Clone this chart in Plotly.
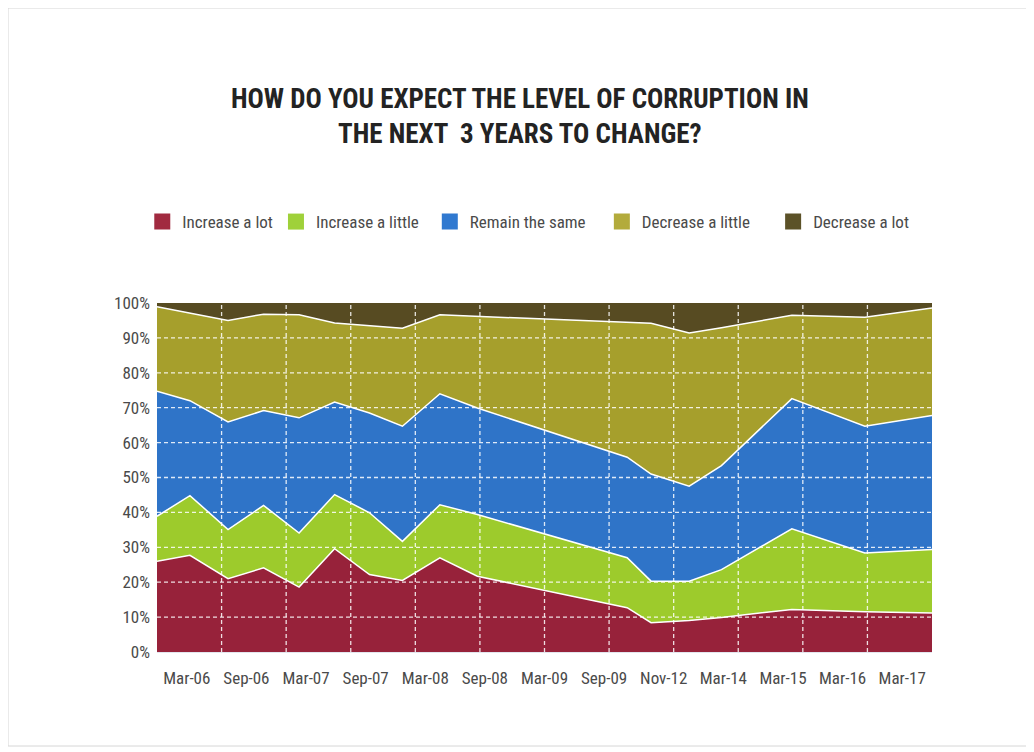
import plotly.graph_objects as go

# ---------------- data ----------------
categories = ["Mar-06", "Sep-06", "Mar-07", "Sep-07", "Mar-08", "Sep-08", "Mar-09",
              "Sep-09", "Nov-12", "Mar-14", "Mar-15", "Mar-16", "Mar-17"]

# position of each survey point along the time axis (grid units, 0..12)
wave_pos = [0, 0.51, 1.10, 1.65, 2.20, 2.75, 3.29, 3.80, 4.38, 4.96,
            7.28, 7.65, 8.24, 8.74, 9.83, 10.96, 12.0]

increase_lot = [26.0, 27.7, 21.0, 24.1, 18.6, 29.6, 22.2, 20.5, 27.0, 21.7,
                12.7, 8.4, 9.0, 9.9, 12.2, 11.5, 11.2]
increase_little = [12.9, 17.1, 14.1, 17.9, 15.5, 15.5, 17.7, 11.2, 15.2, 17.7,
                   14.3, 11.9, 11.3, 13.7, 23.1, 16.9, 18.2]
remain_same = [35.8, 27.2, 30.8, 27.2, 33.0, 26.5, 28.6, 33.0, 31.8, 30.5,
               28.8, 30.7, 27.2, 29.8, 37.3, 36.3, 38.4]
decrease_little = [24.2, 25.0, 29.1, 27.6, 29.5, 22.7, 25.1, 28.1, 22.6, 26.3,
                   38.8, 43.2, 43.9, 39.5, 23.9, 31.2, 30.8]
decrease_lot = [1.1, 3.0, 5.0, 3.2, 3.4, 5.7, 6.4, 7.2, 3.4, 3.8,
                5.4, 5.8, 8.6, 7.1, 3.5, 4.1, 1.4]

series_names = ["Increase a lot", "Increase a little", "Remain the same",
                "Decrease a little", "Decrease a lot"]
series_values = [increase_lot, increase_little, remain_same, decrease_little, decrease_lot]
fill_colors = ["#97223a", "#9dcb2c", "#2f74c8", "#a69f2c", "#574b22"]
legend_colors = ["#a12a40", "#9fd13a", "#3079d0", "#b3ab3c", "#5c5228"]

y_ticks = list(range(0, 101, 10))
y_tick_text = [f"{v}%" for v in y_ticks]

FONT = "Liberation Sans Narrow, Roboto Condensed, DejaVu Sans Condensed, Arial Narrow, sans-serif"

fig = go.Figure()

n_grid = 12
for i, (name, vals, col) in enumerate(zip(series_names, series_values, fill_colors)):
    last = i == len(series_names) - 1
    fig.add_trace(go.Scatter(
        x=wave_pos, y=vals, name=name, mode="lines",
        stackgroup="one",
        fillcolor=col,
        line=dict(color="white", width=0 if last else 1.5),
        showlegend=False, hoverinfo="skip",
    ))

# legend entries (square swatches), each in its own legend box
legend_x = [-0.019, 0.1535, 0.352, 0.574, 0.795]
legend_layouts = {}
for i, (name, col) in enumerate(zip(series_names, legend_colors)):
    key = "legend" if i == 0 else f"legend{i + 1}"
    fig.add_trace(go.Scatter(
        x=[None], y=[None], mode="markers", name=name,
        marker=dict(symbol="square", size=17, color=col),
        showlegend=True, legend=key,
    ))
    legend_layouts[key] = dict(
        orientation="h", x=legend_x[i], xanchor="left", y=1.232, yanchor="middle",
        font=dict(family=FONT, size=17, color="#4a4a4a"),
        bgcolor="rgba(0,0,0,0)", itemclick=False, itemdoubleclick=False,
    )

# dashed white gridlines drawn above the areas
grid_line = dict(color="rgba(255,255,255,0.85)", width=1.3, dash="4px,3px")
shapes = []
for v in y_ticks[1:-1]:
    shapes.append(dict(type="line", xref="x", yref="y", x0=0, x1=n_grid, y0=v, y1=v,
                       line=grid_line, layer="above"))
for k in range(1, n_grid):
    shapes.append(dict(type="line", xref="x", yref="y", x0=k, x1=k, y0=0, y1=100,
                       line=grid_line, layer="above"))
# light outer frame
shapes.append(dict(type="rect", xref="paper", yref="paper",
                   x0=-149 / 775, x1=870 / 775, y0=-94 / 349, y1=644 / 349,
                   line=dict(color="#d6d6d6", width=1), layer="below"))

n_cat = len(categories)
fig.update_layout(
    width=1034, height=752,
    margin=dict(l=149, r=110, t=295, b=108),
    paper_bgcolor="white", plot_bgcolor="white",
    font=dict(family=FONT, color="#4a4a4a", size=17),
    title=dict(
        text="HOW DO YOU EXPECT THE LEVEL OF CORRUPTION IN<br>THE NEXT \u00a03 YEARS TO CHANGE?",
        x=0.495, xanchor="center", xref="container",
        y=1 - 100 / 752, yanchor="top", yref="container",
        font=dict(family=FONT, size=27, color="#232323", weight="bold"),
    ),
    shapes=shapes,
    showlegend=True,
    **legend_layouts,
)
fig.update_xaxes(
    range=[0, n_grid], showgrid=False, zeroline=False,
    tickvals=[(i + 0.5) * n_grid / n_cat for i in range(n_cat)],
    ticktext=categories, ticks="", ticklabelstandoff=11,
    tickfont=dict(family=FONT, size=17, color="#4a4a4a"),
    showline=True, linecolor="#e2e6ee", linewidth=1,
)
fig.update_yaxes(
    range=[0, 100], showgrid=False, zeroline=False,
    tickvals=y_ticks, ticktext=y_tick_text, ticks="", ticklabelstandoff=6,
    tickfont=dict(family=FONT, size=17, color="#4a4a4a"),
)

fig.write_html("out.html")
